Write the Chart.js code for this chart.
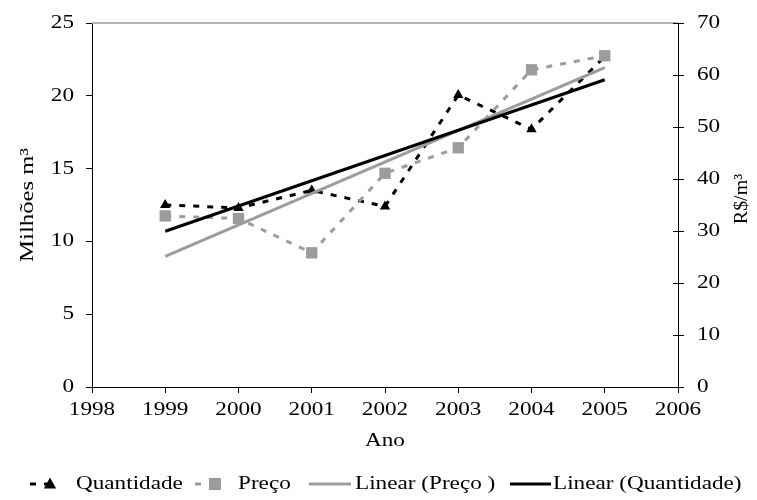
<!DOCTYPE html>
<html>
<head>
<meta charset="utf-8">
<script src="https://cdn.jsdelivr.net/npm/chart.js@4/dist/chart.umd.min.js"></script>
<style>
  html, body { margin: 0; padding: 0; background: #fff; }
  #wrap { width: 757px; height: 500px; }
</style>
</head>
<body>
<div id="wrap"><canvas id="chart" width="757" height="500"></canvas></div>
<script>
// values
const anos = [1999, 2000, 2001, 2002, 2003, 2004, 2005];
const quantidade = [12.5, 12.3, 13.5, 12.4, 20.05, 17.7, 22.7]; // Milhões m³ (left axis)
const preco = [32.9, 32.4, 25.8, 41.1, 46.0, 61.0, 63.7];      // R$/m³ (right axis)
const anosTendencia = [1999, 2005];
const linearQuantidade = [10.7, 21.1];
const linearPreco = [25.1, 61.4];
const anosTicks = [1998, 1999, 2000, 2001, 2002, 2003, 2004, 2005, 2006];
const ticksEsq = [0, 5, 10, 15, 20, 25];
const ticksDir = [0, 10, 20, 30, 40, 50, 60, 70];
const legendas = ['Quantidade', 'Preço', 'Linear (Preço )', 'Linear (Quantidade)'];

const CINZA = '#9c9c9c';
const FONTE = '19px "Liberation Serif", "Times New Roman", serif';
const STRETCH = 1.22; // the reference text is drawn wide

function pts(xs, ys) {
    return xs.map((x, i) => ({ x: x, y: ys[i] }));
}

function wideText(ctx, txt, x, y, align, rot, stretch) {
    ctx.save();
    ctx.translate(x, y);
    if (rot) ctx.rotate(rot);
    ctx.scale(stretch || STRETCH, 1);
    ctx.font = FONTE;
    ctx.fillStyle = '#000';
    ctx.textAlign = align;
    ctx.textBaseline = 'middle';
    ctx.fillText(txt, 0, 0);
    ctx.restore();
}

function triangle(ctx, x, y, r, color) {
    ctx.save();
    ctx.fillStyle = color;
    ctx.beginPath();
    ctx.moveTo(x, y - r);
    ctx.lineTo(x + r * 0.95, y + r * 0.7);
    ctx.lineTo(x - r * 0.95, y + r * 0.7);
    ctx.closePath();
    ctx.fill();
    ctx.restore();
}

// texts, legend, top border and inner right ticks
const decor = {
    id: 'decor',
    beforeDatasetsDraw(chart) {
        const { ctx, chartArea } = chart;
        ctx.save();
        ctx.strokeStyle = '#b4b4b4';
        ctx.lineWidth = 2;
        ctx.beginPath();
        ctx.moveTo(chartArea.left, chartArea.top);
        ctx.lineTo(chartArea.right, chartArea.top);
        ctx.stroke();
        // right axis ticks also reach into the plot
        const yR = chart.scales.yR;
        ctx.strokeStyle = '#000';
        ctx.lineWidth = 1;
        ticksDir.forEach(v => {
            const y = Math.round(yR.getPixelForValue(v)) + 0.5;
            ctx.beginPath();
            ctx.moveTo(chartArea.right - 5, y);
            ctx.lineTo(chartArea.right, y);
            ctx.stroke();
        });
        ctx.restore();
    },
    afterDraw(chart) {
        const { ctx, chartArea, scales } = chart;
        ticksEsq.forEach(v => wideText(ctx, String(v), chartArea.left - 18, scales.y.getPixelForValue(v), 'right'));
        ticksDir.forEach(v => wideText(ctx, String(v), chartArea.right + 19, scales.yR.getPixelForValue(v), 'left'));
        anosTicks.forEach(v => wideText(ctx, String(v), scales.x.getPixelForValue(v), chartArea.bottom + 23, 'center'));
        const midY = (chartArea.top + chartArea.bottom) / 2;
        wideText(ctx, 'Ano', (chartArea.left + chartArea.right) / 2, chartArea.bottom + 54, 'center');
        wideText(ctx, 'Milhões m³', 28, midY, 'center', -Math.PI / 2, 1.3);
        wideText(ctx, 'R$/m³', 742, midY - 6, 'center', -Math.PI / 2, 1.05);

        // legend
        const ly = 484;
        ctx.save();
        ctx.lineWidth = 3;
        ctx.setLineDash([6, 8]);
        ctx.strokeStyle = '#000';
        ctx.beginPath(); ctx.moveTo(30, ly); ctx.lineTo(50, ly); ctx.stroke();
        ctx.strokeStyle = CINZA;
        ctx.beginPath(); ctx.moveTo(195, ly); ctx.lineTo(215, ly); ctx.stroke();
        ctx.setLineDash([]);
        ctx.beginPath(); ctx.moveTo(309, ly); ctx.lineTo(351, ly); ctx.stroke();
        ctx.strokeStyle = '#000';
        ctx.beginPath(); ctx.moveTo(510, ly); ctx.lineTo(551, ly); ctx.stroke();
        ctx.restore();
        triangle(ctx, 50, ly, 6.5, '#000');
        ctx.fillStyle = CINZA;
        ctx.fillRect(209, ly - 6, 12, 12);
        wideText(ctx, legendas[0], 76, ly, 'left');
        wideText(ctx, legendas[1], 238, ly, 'left');
        wideText(ctx, legendas[2], 355, ly, 'left');
        wideText(ctx, legendas[3], 553, ly, 'left');
    }
};

new Chart(document.getElementById('chart'), {
    type: 'line',
    data: {
        datasets: [
            {
                label: legendas[0],
                data: pts(anos, quantidade),
                yAxisID: 'y',
                borderColor: '#000',
                backgroundColor: '#000',
                borderWidth: 3,
                borderDash: [6, 8],
                pointStyle: 'triangle',
                pointRadius: 6,
                pointBorderWidth: 0,
                order: 4
            },
            {
                label: legendas[1],
                data: pts(anos, preco),
                yAxisID: 'yR',
                borderColor: CINZA,
                backgroundColor: CINZA,
                borderWidth: 3,
                borderDash: [6, 8],
                pointStyle: 'rect',
                pointRadius: 8,
                pointBorderWidth: 0,
                order: 3
            },
            {
                label: legendas[2],
                data: pts(anosTendencia, linearPreco),
                yAxisID: 'yR',
                borderColor: CINZA,
                borderWidth: 3,
                pointRadius: 0,
                order: 2
            },
            {
                label: legendas[3],
                data: pts(anosTendencia, linearQuantidade),
                yAxisID: 'y',
                borderColor: '#000',
                borderWidth: 3,
                pointRadius: 0,
                order: 1
            }
        ]
    },
    plugins: [decor],
    options: {
        responsive: false,
        animation: false,
        layout: { padding: { left: 0, right: 0, top: 23, bottom: 49 } },
        plugins: { legend: { display: false }, tooltip: { enabled: false } },
        scales: {
            x: {
                type: 'linear',
                min: 1998,
                max: 2006,
                ticks: { stepSize: 1, display: false },
                grid: { drawOnChartArea: false, drawTicks: true, tickLength: 6, color: '#000' },
                border: { color: '#000', width: 1 },
                afterFit: (s) => { s.height = 64; }
            },
            y: {
                position: 'left',
                min: 0,
                max: 25,
                ticks: { stepSize: 5, display: false },
                grid: { drawOnChartArea: false, drawTicks: true, tickLength: 6, color: '#000' },
                border: { color: '#000', width: 1 },
                afterFit: (s) => { s.width = 92; }
            },
            yR: {
                position: 'right',
                min: 0,
                max: 70,
                ticks: { stepSize: 10, display: false },
                grid: { drawOnChartArea: false, drawTicks: true, tickLength: 6, color: '#000' },
                border: { color: '#000', width: 1 },
                afterFit: (s) => { s.width = 79; }
            }
        }
    }
});
</script>
</body>
</html>
